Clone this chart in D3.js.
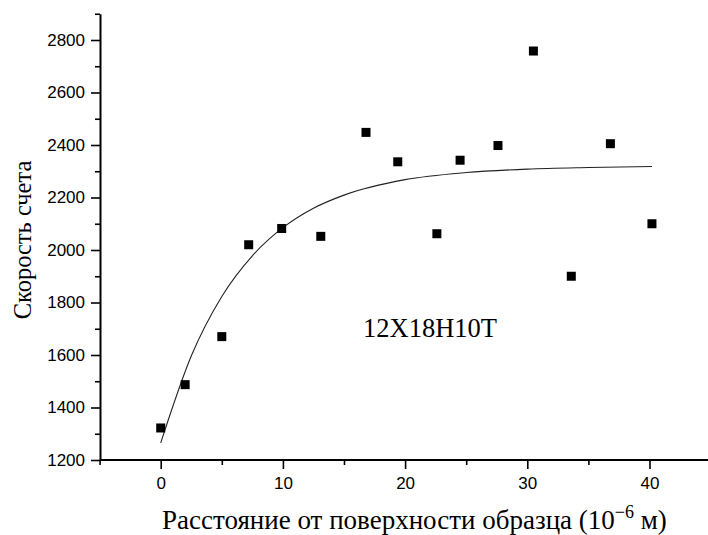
<!DOCTYPE html>
<html>
<head>
<meta charset="utf-8">
<script src="https://cdn.jsdelivr.net/npm/d3@7"></script>
<style>
    body { margin: 0; background: #fff; }
    svg { display: block; }
    .axis path, .axis line { stroke: #000; }
    .axis text { font-family: "Liberation Sans", Arial, sans-serif; font-size: 17px; fill: #000; }
    .label { font-family: "Liberation Serif", "Times New Roman", serif; fill: #000; }
</style>
</head>
<body>
<div id="chart"></div>
<script>
// measured points: distance from surface (1e-6 m) and count rate
const depth = [0, 2, 5, 7.2, 9.9, 13.1, 16.8, 19.4, 22.6, 24.5, 27.6, 30.5, 33.6, 36.8, 40.2];
const rate = [1322, 1487, 1670, 2020, 2082, 2052, 2448, 2336, 2062, 2342, 2398, 2758, 1900, 2405, 2100];

// fitted curve
const fitX = [0, 2.5, 5, 7.5, 10, 12.5, 15, 20, 25, 30, 35, 40.2];
const fitY = [1265, 1596, 1823, 1978, 2085, 2159, 2209, 2268, 2295, 2308, 2314, 2318];

const xMajor = [0, 10, 20, 30, 40];
const xMinor = [-5, 5, 15, 25, 35, 45];
const yMajor = [1200, 1400, 1600, 1800, 2000, 2200, 2400, 2600, 2800];
const yMinor = [1300, 1500, 1700, 1900, 2100, 2300, 2500, 2700, 2900];

const width = 708, height = 535;

const svg = d3.select('#chart').append('svg')
    .attr('width', width)
    .attr('height', height);

const x = d3.scaleLinear().domain([-5, 45]).range([99.6, 710.6]);
const y = d3.scaleLinear().domain([1200, 2900]).range([460, 13.75]);

// minor ticks first, then major axis on top
svg.append('g')
    .attr('class', 'axis')
    .attr('transform', 'translate(0,460)')
    .call(d3.axisBottom(x).tickValues(xMinor).tickSize(5).tickSizeOuter(0).tickFormat(''))
    .call(g => g.select('.domain').remove())
    .selectAll('line').attr('stroke-width', 1.6);

svg.append('g')
    .attr('class', 'axis')
    .attr('transform', 'translate(0,460)')
    .call(d3.axisBottom(x).tickValues(xMajor).tickSize(9).tickSizeOuter(0).tickPadding(8))
    .call(g => g.select('.domain').attr('stroke-width', 2).attr('d', 'M100,0H708'))
    .selectAll('line').attr('stroke-width', 1.6);

svg.append('g')
    .attr('class', 'axis')
    .attr('transform', 'translate(100,0)')
    .call(d3.axisLeft(y).tickValues(yMinor).tickSize(5).tickSizeOuter(0).tickFormat(''))
    .call(g => g.select('.domain').remove())
    .selectAll('line').attr('stroke-width', 1.6);

svg.append('g')
    .attr('class', 'axis')
    .attr('transform', 'translate(100,0)')
    .call(d3.axisLeft(y).tickValues(yMajor).tickSize(9).tickSizeOuter(0).tickPadding(6).tickFormat(d3.format('d')))
    .call(g => g.select('.domain').attr('stroke-width', 2))
    .selectAll('line').attr('stroke-width', 1.6);

// fit line
const line = d3.line()
    .x(d => x(d[0]))
    .y(d => y(d[1]))
    .curve(d3.curveMonotoneX);

svg.append('path')
    .datum(d3.zip(fitX, fitY))
    .attr('d', line)
    .attr('fill', 'none')
    .attr('stroke', '#222')
    .attr('stroke-width', 1.1);

// data points
const sq = 9;
svg.selectAll('.pt')
    .data(d3.zip(depth, rate))
    .enter()
    .append('rect')
    .attr('class', 'pt')
    .attr('x', d => x(d[0]) - sq / 2)
    .attr('y', d => y(d[1]) - sq / 2)
    .attr('width', sq)
    .attr('height', sq)
    .attr('fill', '#000');

// axis titles
svg.append('text')
    .attr('class', 'label')
    .attr('transform', 'translate(31,240) rotate(-90)')
    .attr('text-anchor', 'middle')
    .style('font-size', '24.5px')
    .text('Скорость счета');

const xt = svg.append('text')
    .attr('class', 'label')
    .attr('x', 162)
    .attr('y', 529)
    .style('font-size', '27px');
xt.append('tspan').text('Расстояние от поверхности образца (10');
xt.append('tspan').attr('dy', -11).style('font-size', '18px').text('\u22126');
xt.append('tspan').attr('dy', 11).text(' м)');

// sample name
svg.append('text')
    .attr('class', 'label')
    .attr('x', 363)
    .attr('y', 337)
    .style('font-size', '26.5px')
    .text('12Х18Н10Т');
</script>
</body>
</html>
